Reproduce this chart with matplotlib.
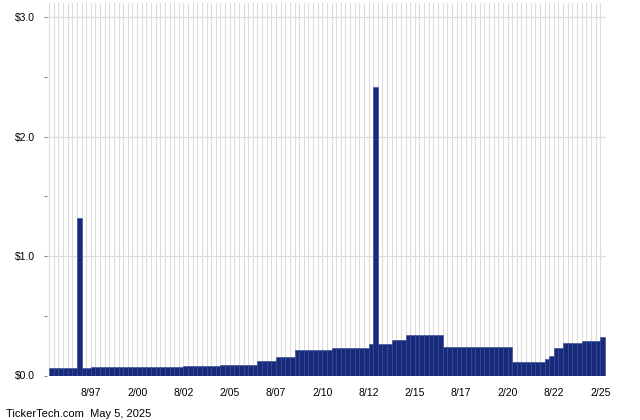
"""
Quarterly dividend history bar chart (TickerTech style).
"""

import matplotlib
matplotlib.use("Agg")
import matplotlib.pyplot as plt
import matplotlib.dates as mdates
import numpy as np
import pandas as pd

plt.rcParams["font.family"] = ["Liberation Sans", "DejaVu Sans"]

# ============== data ==============
# first quarter shown, one bar per quarter
first_quarter = "1995-05-01"

dividends = (
    [0.06] * 6 + [1.32] + [0.06] * 2
    + [0.071] * 20
    + [0.082] * 8
    + [0.09] * 8
    + [0.12] * 4
    + [0.158] * 4
    + [0.214] * 8
    + [0.23] * 8
    + [0.264] + [2.42] + [0.264] * 3
    + [0.298] * 3
    + [0.34] * 8
    + [0.24] * 15
    + [0.113] * 7
    + [0.138] + [0.163]
    + [0.23] * 2
    + [0.272] * 4
    + [0.29] * 4
    + [0.32]
)

tick_labels = ["8/97", "2/00", "8/02", "2/05", "8/07", "2/10",
               "8/12", "2/15", "8/17", "2/20", "8/22", "2/25"]
y_ticks = [0.0, 1.0, 2.0, 3.0]
y_labels = ["$0.0", "$1.0", "$2.0", "$3.0"]
footer = "TickerTech.com  May 5, 2025"

# ============== figure ==============
fig = plt.figure(figsize=(6.4, 4.2), dpi=100)
ax = fig.add_axes([47 / 640, 44.5 / 420, (606 - 47) / 640, (417 - 44.5) / 420])

dates = pd.date_range(first_quarter, periods=len(dividends), freq="3MS")
edges = mdates.date2num(dates)
widths = np.diff(np.append(edges, edges[-1] + 90))

ax.bar(edges, dividends, width=widths, align="edge",
       color="#172a7c", edgecolor="#34468f", linewidth=0.4, zorder=3)

# grid: one vertical line per quarter, horizontal at each dollar
ax.set_xticks(edges, minor=True)
tick_dates = mdates.date2num(pd.to_datetime(tick_labels, format="%m/%y"))
ax.set_xticks(tick_dates)
ax.set_xticklabels(tick_labels)
ax.grid(True, which="both", axis="x", color="#dcdcdc", linewidth=0.8, zorder=0)

ax.set_yticks(y_ticks)
ax.set_yticklabels(y_labels)
ax.set_yticks([0.5, 1.5, 2.5], minor=True)
ax.grid(True, which="major", axis="y", color="#dcdcdc", linewidth=0.9, zorder=0)

ax.set_xlim(edges[0] - 40, edges[-1] + widths[-1] + 25)
ax.set_ylim(0, 3.12)

for s in ax.spines.values():
    s.set_visible(False)

ax.tick_params(axis="x", which="both", length=0, pad=9, labelsize=7.5)
ax.tick_params(axis="y", which="both", length=2.5, width=0.8, color="#888888",
               pad=6, labelsize=7.5)

fig.text(6 / 640, 3 / 420, footer, fontsize=8, va="baseline", ha="left")

fig.savefig("out.png", dpi=100)
